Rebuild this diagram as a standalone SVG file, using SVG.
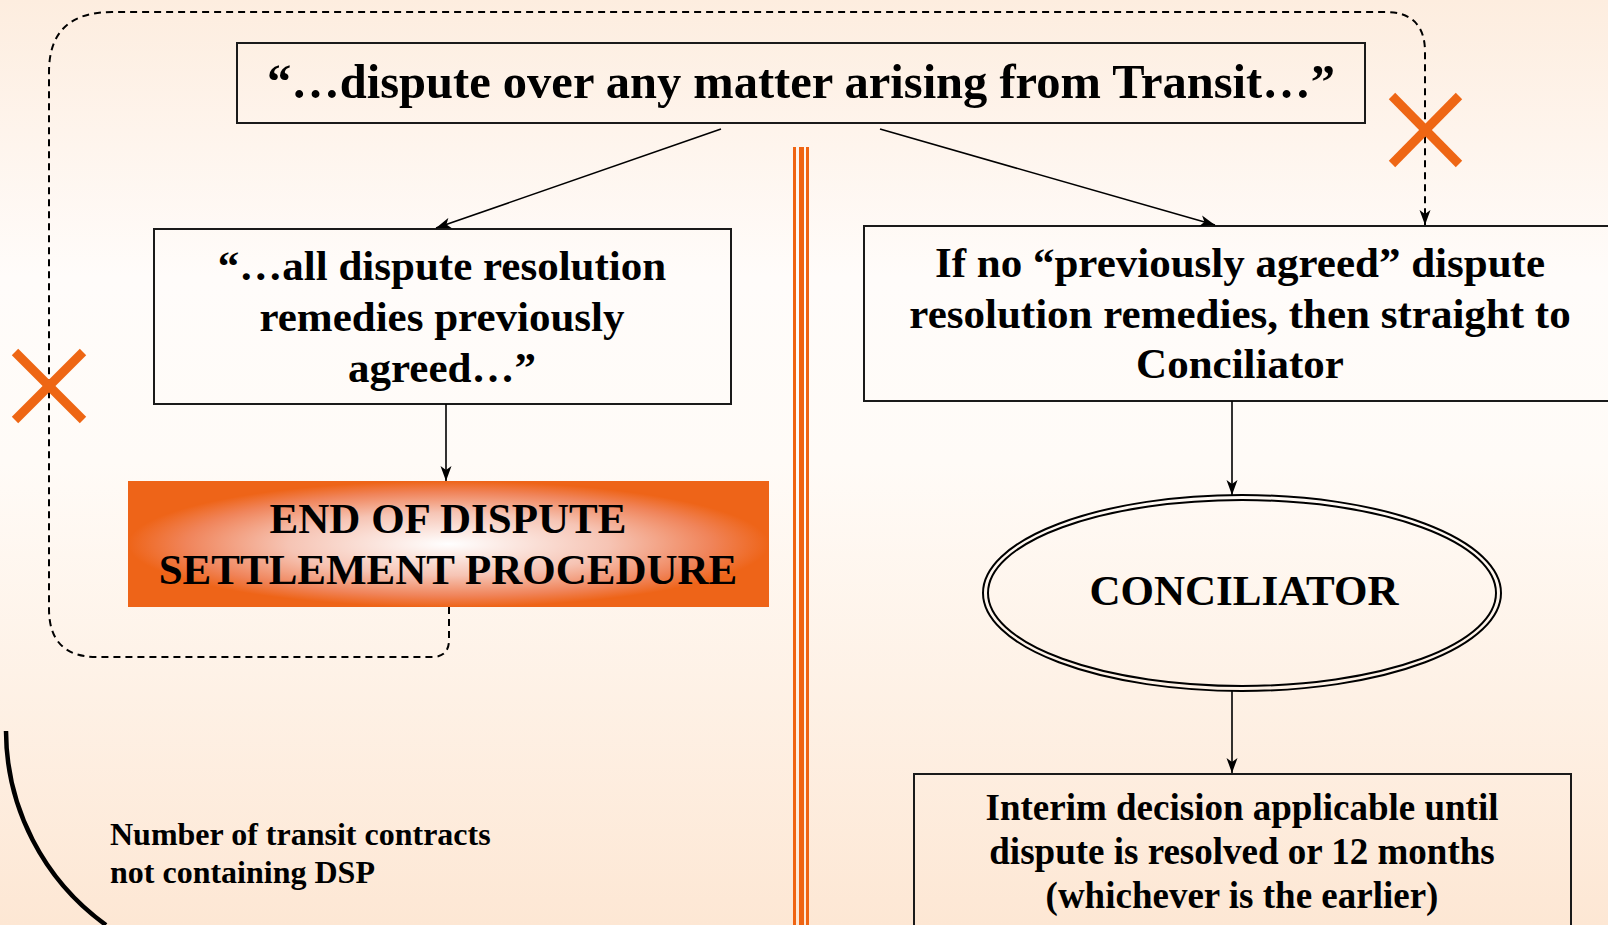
<svg xmlns="http://www.w3.org/2000/svg" width="1608" height="925" viewBox="0 0 1608 925">
<defs>
<linearGradient id="bg" x1="0" y1="0" x2="0" y2="1">
<stop offset="0" stop-color="#FDEDDF"/>
<stop offset="0.3" stop-color="#FFFCFA"/>
<stop offset="0.5" stop-color="#FFFBF7"/>
<stop offset="1" stop-color="#FDE7D4"/>
</linearGradient>
<radialGradient id="endg" cx="0.5" cy="0.5" r="0.5">
<stop offset="0" stop-color="#FFFFFF"/>
<stop offset="0.5" stop-color="#F6C4B4"/>
<stop offset="0.82" stop-color="#F0845A"/>
<stop offset="1" stop-color="#EE6418"/>
</radialGradient>
<marker id="arr" markerUnits="userSpaceOnUse" markerWidth="16" markerHeight="12" viewBox="0 0 16 12" refX="15" refY="6" orient="auto">
<path d="M0,0.5 L15,6 L0,11.5 L4,6 Z" fill="#000"/>
</marker>
<style>
.box{fill:none;stroke:#1a1a1a;stroke-width:2}
.t{font-family:"Liberation Serif","Times New Roman",serif;font-weight:bold;fill:#000;text-anchor:middle}
.c{fill:none;stroke:#000;stroke-width:1.6}
.d{fill:none;stroke:#000;stroke-width:2;stroke-dasharray:7 5}
.x{stroke:#EE6614;stroke-width:9}
.o{fill:#EF6412}
</style>
</defs>
<rect width="1608" height="925" fill="url(#bg)"/>

<g id="divider">
<rect class="o" x="793" y="147" width="3" height="778"/>
<rect class="o" x="799" y="147" width="5" height="778"/>
<rect class="o" x="806" y="147" width="3" height="778"/>
</g>

<g id="top">
<rect class="box" x="237" y="43" width="1128" height="80"/>
<text class="t" x="801" y="98" font-size="48.5">“…dispute over any matter arising from Transit…”</text>
</g>

<g id="left">
<rect class="box" x="154" y="229" width="577" height="175"/>
<text class="t" x="442" y="280" font-size="43">“…all dispute resolution</text>
<text class="t" x="442" y="331" font-size="43">remedies previously</text>
<text class="t" x="442" y="382" font-size="43">agreed…”</text>
</g>

<g id="end">
<rect x="128" y="481" width="641" height="126" fill="url(#endg)"/>
<text class="t" x="448" y="533" font-size="43">END OF DISPUTE</text>
<text class="t" x="448" y="584" font-size="43">SETTLEMENT PROCEDURE</text>
</g>

<g id="right">
<rect class="box" x="864" y="226" width="760" height="175"/>
<text class="t" x="1240" y="277" font-size="43">If no “previously agreed” dispute</text>
<text class="t" x="1240" y="328" font-size="43">resolution remedies, then straight to</text>
<text class="t" x="1240" y="378" font-size="43">Conciliator</text>
</g>

<g id="conciliator">
<ellipse cx="1242" cy="593" rx="259" ry="98" fill="none" stroke="#000" stroke-width="2"/>
<ellipse cx="1242" cy="593" rx="254" ry="93" fill="none" stroke="#000" stroke-width="2"/>
<text class="t" x="1244" y="605" font-size="43">CONCILIATOR</text>
</g>

<g id="interim">
<rect class="box" x="914" y="774" width="657" height="170"/>
<text class="t" x="1242" y="820" font-size="37">Interim decision applicable until</text>
<text class="t" x="1242" y="864" font-size="37">dispute is resolved or 12 months</text>
<text class="t" x="1242" y="908" font-size="37">(whichever is the earlier)</text>
</g>

<g id="note">
<path d="M6,731 A240,240 0 0 0 106,925" fill="none" stroke="#000" stroke-width="4.5"/>
<text class="t" x="110" y="845" font-size="32" style="text-anchor:start">Number of transit contracts</text>
<text class="t" x="110" y="883" font-size="32" style="text-anchor:start">not containing DSP</text>
</g>

<g id="connectors">
<line class="c" x1="721" y1="129" x2="436" y2="228" marker-end="url(#arr)"/>
<line class="c" x1="880" y1="129" x2="1215" y2="225" marker-end="url(#arr)"/>
<line class="c" x1="446" y1="404" x2="446" y2="481" marker-end="url(#arr)"/>
<line class="c" x1="1232" y1="401" x2="1232" y2="495" marker-end="url(#arr)"/>
<line class="c" x1="1232" y1="691" x2="1232" y2="773" marker-end="url(#arr)"/>
<path class="d" d="M449,607 L449,640 Q449,657 432,657 L97,657 Q49,657 49,609 L49,72 Q49,12 112,12 L1385,12 Q1425,12 1425,52 L1425,225" marker-end="url(#arr)"/>
</g>

<g id="marks">
<line class="x" x1="15" y1="352" x2="83" y2="420"/>
<line class="x" x1="83" y1="352" x2="15" y2="420"/>
<line class="x" x1="1392" y1="96" x2="1459" y2="164"/>
<line class="x" x1="1459" y1="96" x2="1392" y2="164"/>
</g>
</svg>
